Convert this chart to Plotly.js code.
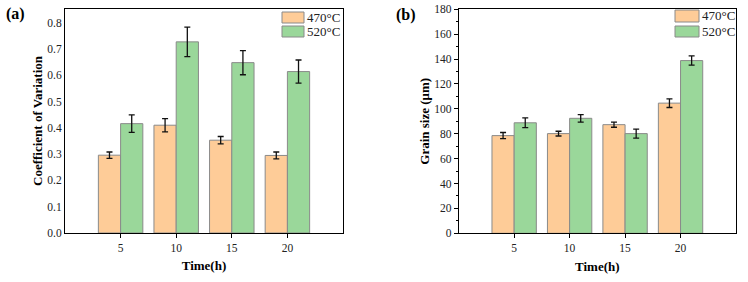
<!DOCTYPE html>
<html>
<head>
<meta charset="utf-8">
<script src="https://cdn.plot.ly/plotly-3.0.1.min.js"></script>
<style>html,body{margin:0;padding:0;background:#fff;}#chart{width:748px;height:282px;}</style>
</head>
<body>
<div id="chart"></div>
<script>
// Data
const times = [5, 10, 15, 20];
const seriesNames = ['470\u00b0C', '520\u00b0C'];
const cov470 = [0.296, 0.410, 0.353, 0.295];
const cov470Err = [0.012, 0.025, 0.014, 0.013];
const cov520 = [0.416, 0.727, 0.648, 0.614];
const cov520Err = [0.033, 0.056, 0.046, 0.044];
const grain470 = [78.5, 80.1, 87.3, 104.6];
const grain470Err = [2.5, 1.9, 2.1, 3.5];
const grain520 = [88.8, 92.4, 80.1, 138.8];
const grain520Err = [3.9, 3.0, 3.6, 3.7];

const cOrange = '#FECC98';
const cGreen = '#9AD79A';
const fontFam = 'Liberation Serif, Times New Roman, serif';
const W = 748, H = 282;

function barTrace(y, err, name, color, xa, ya) {
  return {
    type: 'bar', x: times, y: y, name: name,
    xaxis: xa, yaxis: ya, showlegend: false,
    marker: {color: color, line: {color: '#8a8a8a', width: 1}},
    error_y: {type: 'data', array: err, visible: true, color: '#111', thickness: 1.3, width: 3}
  };
}

const data = [
  barTrace(cov470, cov470Err, seriesNames[0], cOrange, 'x', 'y'),
  barTrace(cov520, cov520Err, seriesNames[1], cGreen, 'x', 'y'),
  barTrace(grain470, grain470Err, seriesNames[0], cOrange, 'x2', 'y2'),
  barTrace(grain520, grain520Err, seriesNames[1], cGreen, 'x2', 'y2')
];

const axBase = {
  showline: true, mirror: true, linecolor: '#000', linewidth: 1,
  showgrid: false, zeroline: false,
  tickfont: {family: fontFam, size: 11.5, color: '#222'},
  fixedrange: true
};
const xBase = Object.assign({}, axBase, {
  range: [0, 25], tickvals: times, ticktext: times.map(String),
  ticks: 'outside', ticklen: 4, tickwidth: 1, tickcolor: '#000',
  title: {text: '<b>Time(h)</b>', font: {family: fontFam, size: 13, color: '#000'}, standoff: 8}
});

// Legend drawn as swatches + labels (paper coords from pixel positions)
const shapes = [];
const annotations = [
  {text: '<b>(a)</b>', xref: 'paper', yref: 'paper', x: 4 / W, y: 1 - 14 / H, xanchor: 'left', yanchor: 'middle', showarrow: false, font: {family: fontFam, size: 16, color: '#000'}},
  {text: '<b>(b)</b>', xref: 'paper', yref: 'paper', x: 394 / W, y: 1 - 15 / H, xanchor: 'left', yanchor: 'middle', showarrow: false, font: {family: fontFam, size: 16, color: '#000'}}
];
function addLegend(x0, x1, rows) {
  const colors = [cOrange, cGreen];
  rows.forEach((r, i) => {
    shapes.push({type: 'rect', xref: 'paper', yref: 'paper', x0: x0 / W, x1: x1 / W, y0: 1 - r[1] / H, y1: 1 - r[0] / H,
      fillcolor: colors[i], line: {color: '#8a8a8a', width: 1}});
    annotations.push({text: seriesNames[i], xref: 'paper', yref: 'paper', x: (x1 + 1) / W, y: 1 - (r[0] + r[1]) / 2 / H,
      xanchor: 'left', yanchor: 'middle', showarrow: false, font: {family: fontFam, size: 13, color: '#222'}});
  });
}
addLegend(282, 304, [[12, 23], [26, 37]]);
addLegend(675, 699, [[10, 22], [26, 37]]);

const layout = {
  width: W, height: H,
  margin: {l: 0, r: 0, t: 0, b: 0},
  paper_bgcolor: '#fff', plot_bgcolor: '#fff',
  barmode: 'group', bargap: 0.2, bargroupgap: 0,
  font: {family: fontFam, color: '#000'},
  showlegend: false,
  xaxis: Object.assign({}, xBase, {domain: [65 / W, 343 / W], anchor: 'y'}),
  yaxis: Object.assign({}, axBase, {
    domain: [(H - 233) / H, (H - 9) / H], anchor: 'x', range: [0, 0.852],
    dtick: 0.1, tickformat: '.1f', ticks: '',
    title: {text: '<b>Coefficient of Variation</b>', font: {family: fontFam, size: 13, color: '#000'}, standoff: 1}
  }),
  xaxis2: Object.assign({}, xBase, {domain: [458.7 / W, 736 / W], anchor: 'y2'}),
  yaxis2: Object.assign({}, axBase, {
    domain: [(H - 233.3) / H, (H - 9.3) / H], anchor: 'x2', range: [0, 180],
    dtick: 20, ticks: 'outside', ticklen: 4, tickwidth: 1, tickcolor: '#000',
    minor: {dtick: 10, ticks: 'outside', ticklen: 2, tickcolor: '#000', showgrid: false},
    title: {text: '<b>Grain size (\u03bcm)</b>', font: {family: fontFam, size: 13, color: '#000'}, standoff: 1}
  }),
  shapes: shapes,
  annotations: annotations
};

Plotly.newPlot('chart', data, layout, {staticPlot: true, displayModeBar: false});
</script>
</body>
</html>
